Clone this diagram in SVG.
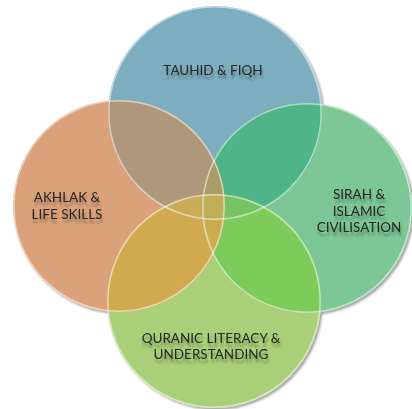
<svg xmlns="http://www.w3.org/2000/svg" width="412" height="409" viewBox="0 0 412 409">
  <style>
    .lbl { font-family: Lato, "Open Sans", "Liberation Sans", sans-serif; font-size: 13.5px; fill: #262626; text-anchor: middle; filter: url(#txtShadow); }
    .edge { fill: none; stroke: #ffffff; stroke-opacity: 0.55; stroke-width: 1.5; }
  </style>
  <defs>
    <clipPath id="cT"><circle cx="215" cy="113" r="107"/></clipPath>
    <clipPath id="cL"><circle cx="119" cy="206" r="106"/></clipPath>
    <clipPath id="cR"><circle cx="307" cy="208" r="105"/></clipPath>
    <clipPath id="cB"><circle cx="214" cy="301" r="107"/></clipPath>
    <filter id="shadow" x="-10%" y="-10%" width="125%" height="125%">
      <feDropShadow dx="2" dy="2" stdDeviation="1.2" flood-color="#000" flood-opacity="0.35"/>
    </filter>
    <filter id="txtShadow" x="-10%" y="-30%" width="120%" height="180%">
      <feGaussianBlur in="SourceAlpha" stdDeviation="0.8" result="b"/>
      <feOffset in="b" dx="1" dy="4" result="o"/>
      <feComponentTransfer in="o" result="s"><feFuncA type="linear" slope="0.3"/></feComponentTransfer>
      <feMerge><feMergeNode in="s"/><feMergeNode in="SourceGraphic"/></feMerge>
    </filter>
  </defs>

  <g id="bases" filter="url(#shadow)">
    <circle id="circle-tauhid" cx="215" cy="113" r="107" fill="#7baec0"/>
    <circle id="circle-sirah" cx="307" cy="208" r="105" fill="#7cc795"/>
    <circle id="circle-quranic" cx="214" cy="301" r="107" fill="#a9cf79"/>
    <circle id="circle-akhlak" cx="119" cy="206" r="106" fill="#dba17a"/>
  </g>

  <g id="overlaps">
    <g clip-path="url(#cT)"><circle cx="119" cy="206" r="106" fill="#ae977a"/></g>
    <g clip-path="url(#cT)"><circle cx="307" cy="208" r="105" fill="#4fb487"/></g>
    <g clip-path="url(#cL)"><circle cx="214" cy="301" r="107" fill="#d1aa50"/></g>
    <g clip-path="url(#cR)"><circle cx="214" cy="301" r="107" fill="#7ccb5b"/></g>
    <g clip-path="url(#cL)"><circle cx="307" cy="208" r="105" fill="#cdac50"/></g>
    <g clip-path="url(#cT)"><g clip-path="url(#cL)"><circle cx="307" cy="208" r="105" fill="#a99c66"/></g></g>
    <g clip-path="url(#cT)"><g clip-path="url(#cL)"><circle cx="214" cy="301" r="107" fill="#c9ab58"/></g></g>
    <g clip-path="url(#cT)"><g clip-path="url(#cR)"><circle cx="214" cy="301" r="107" fill="#74c464"/></g></g>
    <g clip-path="url(#cT)"><g clip-path="url(#cL)"><g clip-path="url(#cR)"><circle cx="214" cy="301" r="107" fill="#c0ae58"/></g></g></g>
  </g>

  <g id="edges">
    <circle class="edge" cx="215" cy="113" r="106.2"/>
    <circle class="edge" cx="307" cy="208" r="104.2"/>
    <circle class="edge" cx="214" cy="301" r="106.2"/>
    <circle class="edge" cx="119" cy="206" r="105.2"/>
  </g>

  <g id="node-tauhid">
    <text class="lbl" x="213" y="75">TAUHID &amp; FIQH</text>
  </g>
  <g id="node-akhlak">
    <text class="lbl" x="67" y="202">AKHLAK &amp;</text>
    <text class="lbl" x="67" y="219">LIFE SKILLS</text>
  </g>
  <g id="node-sirah">
    <text class="lbl" x="359" y="199">SIRAH &amp;</text>
    <text class="lbl" x="359" y="215.5">ISLAMIC</text>
    <text class="lbl" x="359" y="232">CIVILISATION</text>
  </g>
  <g id="node-quranic">
    <text class="lbl" x="211" y="342.5">QURANIC LITERACY &amp;</text>
    <text class="lbl" x="211" y="359">UNDERSTANDING</text>
  </g>
  <g id="connectors"/>
</svg>
